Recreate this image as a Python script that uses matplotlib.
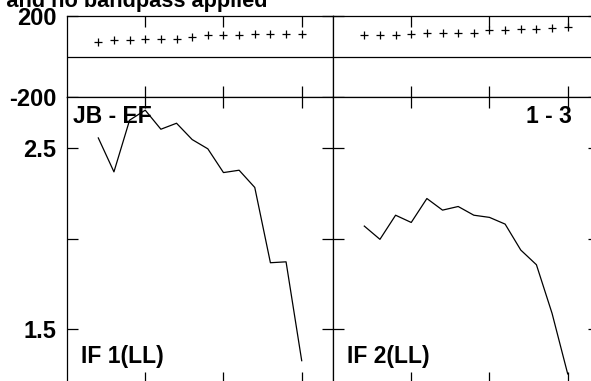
import matplotlib
matplotlib.use("Agg")
import matplotlib.pyplot as plt
import numpy as np

plt.rcParams['font.family'] = ['Liberation Sans', 'DejaVu Sans']
plt.rcParams['font.weight'] = 'bold'
plt.rcParams['axes.unicode_minus'] = False

channels = list(range(2, 16))
phase_if1 = [70, 79, 79, 85, 87, 88, 98, 105, 105, 105, 108, 111, 111, 111]
phase_if2 = [103, 106, 103, 111, 113, 116, 113, 116, 128, 131, 134, 134, 142, 144]
amp_if1 = [2.555, 2.368, 2.653, 2.708, 2.603, 2.636, 2.546, 2.495, 2.364, 2.377,
           2.282, 1.867, 1.872, 1.327]
amp_if2 = [2.069, 1.996, 2.129, 2.089, 2.221, 2.157, 2.177, 2.129, 2.117, 2.080,
           1.937, 1.856, 1.588, 1.254]
baseline_label = "JB - EF"
scan_label = "1 - 3"
if_labels = ["IF 1(LL)", "IF 2(LL)"]
title_text = "Calibrated with CL 1 and no bandpass applied"

W, H = 591, 381
fig = plt.figure(figsize=(W / 100, H / 100), dpi=100)

def rect(x0, x1, ytop, ybot):
    return [x0 / W, 1 - ybot / H, (x1 - x0) / W, (ybot - ytop) / H]

XL = (67, 333)
XR = (333, 599)
PH = (15.7, 97.3)
AM = (97.3, 383)

def style(ax, ylabels):
    for s in ax.spines.values():
        s.set_linewidth(0.9)
        s.set_color('black')
    ax.tick_params(direction='in', length=8, width=0.9, top=True, right=True,
                   bottom=True, left=True, labelbottom=False, labelsize=17,
                   pad=7.5, labelleft=ylabels)
    ax.set_xlim(0, 17)
    ax.set_xticks([5, 10, 15])

for i, (xr, ph, amp) in enumerate([(XL, phase_if1, amp_if1),
                                  (XR, phase_if2, amp_if2)]):
    axp = fig.add_axes(rect(xr[0], xr[1], PH[0], PH[1]))
    style(axp, i == 0)
    axp.set_ylim(-200, 200)
    axp.set_yticks([-200, 200])
    axp.axhline(0, color='black', lw=0.9)
    axp.plot(channels, ph, linestyle='none', marker='+', color='black',
             markersize=6, markeredgewidth=0.9)
    axa = fig.add_axes(rect(xr[0], xr[1], AM[0], AM[1]))
    style(axa, i == 0)
    axa.set_ylim(1.204, 2.779)
    axa.set_yticks([1.5, 2.0, 2.5])
    if i == 0:
        axa.set_yticklabels(['1.5', '', '2.5'])
    axa.plot(channels, amp, color='black', lw=0.9)
    for t in axp.get_yticklabels() + axa.get_yticklabels():
        t.set_fontweight('bold')

def ftext(x, y, s, ha='left', size=16.5):
    fig.text(x / W, 1 - y / H, s, ha=ha, va='baseline', fontsize=size,
             fontweight='bold', color='black')

ftext(73, 123.3, baseline_label)
ftext(572, 123.0, scan_label, ha='right')
ftext(81, 362.7, if_labels[0])
ftext(346.7, 362.7, if_labels[1])
ftext(267, 6.5, title_text, ha='right', size=15.7)

fig.savefig("out.png", dpi=100)
